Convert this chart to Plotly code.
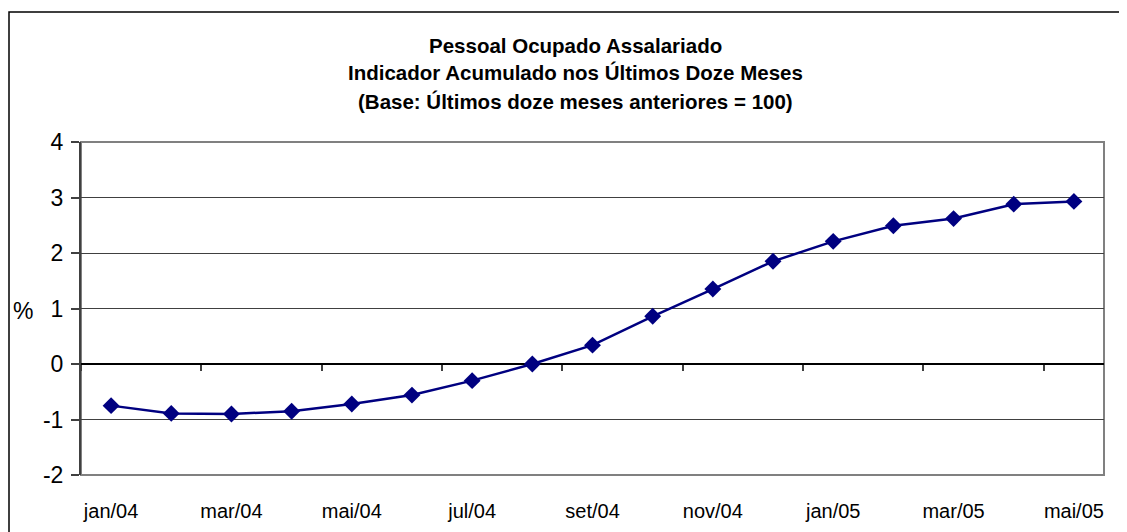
import plotly.graph_objects as go

months = ["jan/04", "fev/04", "mar/04", "abr/04", "mai/04", "jun/04", "jul/04", "ago/04",
          "set/04", "out/04", "nov/04", "dez/04", "jan/05", "fev/05", "mar/05", "abr/05", "mai/05"]
values = [-0.75, -0.89, -0.90, -0.85, -0.72, -0.56, -0.30, 0.00,
          0.34, 0.86, 1.35, 1.85, 2.21, 2.49, 2.62, 2.88, 2.93]
title_lines = ["Pessoal Ocupado Assalariado",
               "Indicador Acumulado nos Últimos Doze Meses",
               "(Base: Últimos doze meses anteriores = 100)"]
y_ticks = [-2, -1, 0, 1, 2, 3, 4]

FONT = "Arial, Liberation Sans, sans-serif"
NAVY = "#000080"
n = len(months)
xs = list(range(n))
label_idx = list(range(0, n, 2))
boundaries = [i - 0.5 for i in range(0, n, 2)]
xrange_ = [-0.5, n - 0.5]

fig = go.Figure()
fig.add_trace(go.Scatter(
    x=xs, y=values, mode="lines+markers",
    line=dict(color=NAVY, width=2.5),
    marker=dict(symbol="diamond", size=13, color=NAVY),
    showlegend=False, hoverinfo="skip",
))
# invisible trace on the secondary (zero-crossing) axis
fig.add_trace(go.Scatter(x=[xs[0]], y=[values[0]], xaxis="x2", mode="markers",
                         marker=dict(opacity=0), showlegend=False, hoverinfo="skip"))

fig.update_layout(
    width=1119, height=524,
    margin=dict(l=73, r=23, t=134, b=57),
    paper_bgcolor="white", plot_bgcolor="white",
    font=dict(family=FONT, color="black"),
    xaxis=dict(
        range=xrange_, tickmode="array", tickvals=label_idx,
        ticktext=[months[i] for i in label_idx],
        tickfont=dict(size=20, family=FONT), ticks="outside", ticklen=18,
        tickcolor="rgba(0,0,0,0)", automargin=False,
        showgrid=False, zeroline=False, showline=False,
    ),
    xaxis2=dict(
        range=xrange_, overlaying="x", anchor="free", position=2 / 6, side="bottom",
        tickmode="array", tickvals=boundaries, ticks="outside", ticklen=6,
        tickcolor="#404040", tickwidth=2, showticklabels=False, automargin=False,
        showgrid=False, zeroline=False, showline=False,
    ),
    yaxis=dict(
        range=[-2, 4], tickmode="array", tickvals=y_ticks,
        ticktext=[str(v) for v in y_ticks], automargin=False,
        tickfont=dict(size=23, family=FONT), ticks="outside", ticklen=8,
        ticklabelstandoff=3,
        tickcolor="#404040", tickwidth=2,
        showgrid=True, gridcolor="#404040", gridwidth=1,
        zeroline=True, zerolinecolor="black", zerolinewidth=1.5,
        showline=True, linecolor="#404040", linewidth=2,
    ),
    shapes=[
        # plot-area border
        dict(type="rect", xref="paper", yref="paper", x0=0, y0=0, x1=1, y1=1,
             line=dict(color="#808080", width=2), layer="below"),
        # outer chart border
        dict(type="rect", xref="paper", yref="paper",
             x0=(9 - 81) / 1023, y0=-0.4, x1=1.2, y1=(475 - 12) / 333,
             line=dict(color="black", width=1.5)),
    ],
)

title_y = [45, 73, 101]
for txt, py in zip(title_lines, title_y):
    fig.add_annotation(text=f"<b>{txt}</b>", xref="paper", yref="paper",
                       x=(575 - 81) / 1023, y=(475 - py) / 333, showarrow=False,
                       xanchor="center", yanchor="middle",
                       font=dict(size=20.5, family=FONT, color="black"))

fig.add_annotation(text="%", xref="paper", yref="paper",
                   x=(23 - 81) / 1023, y=(475 - 311) / 333, showarrow=False,
                   xanchor="center", yanchor="middle",
                   font=dict(size=23, family=FONT, color="black"))

fig.write_html("out.html")
